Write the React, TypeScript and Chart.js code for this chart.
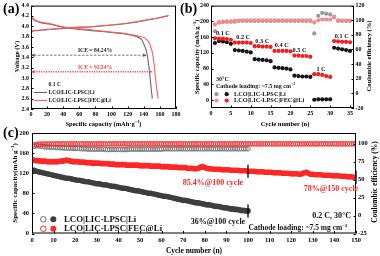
import React, { useEffect, useRef } from 'react';
import { Chart, registerables } from 'chart.js';

Chart.register(...registerables);

const SERIF = "'Liberation Serif', 'Times New Roman', serif";

// ---------------- Panel (a): charge / discharge profiles ----------------
const aXTicks = [0, 20, 40, 60, 80, 100, 120, 140, 160, 180];
const aYTicks = [2.4, 2.6, 2.8, 3.0, 3.2, 3.4, 3.6, 3.8, 4.0, 4.2, 4.4];
const aRedDisX = [0, 5, 12, 24, 40, 61, 80, 100, 117, 133, 141.5, 147.7, 151.8, 154, 156, 158];
const aRedDisY = [4.19, 4.12, 4.08, 4.05, 3.99, 3.95, 3.92, 3.89, 3.86, 3.81, 3.77, 3.65, 3.4, 3.08, 2.8, 2.6];
const aGrayDisX = [0, 5, 12, 24, 40, 61, 80, 100, 117, 133, 137.5, 141, 143.6, 146.5, 148.5, 150.6];
const aGrayDisY = [4.17, 4.11, 4.07, 4.04, 3.98, 3.94, 3.91, 3.88, 3.85, 3.79, 3.74, 3.62, 3.5, 3.2, 2.9, 2.6];
const aRedChgX = [0, 0.8, 5, 20, 44, 80, 119, 146, 160, 171];
const aRedChgY = [3.78, 3.9, 3.92, 3.94, 3.97, 4.0, 4.06, 4.13, 4.17, 4.21];
const aGrayChgX = [0, 0.8, 5, 20, 44, 80, 119, 146, 160, 170];
const aGrayChgY = [3.7, 3.89, 3.915, 3.935, 3.965, 3.995, 4.055, 4.125, 4.165, 4.2];
const aIceVoltage = [3.44, 3.12];
const aIceEnd = [143.5, 151];
const aIceLabels = ['ICE = 84.24%', 'ICE = 93.54%'];
const aSeriesNames = ['LCO|LIC-LPSC|Li', 'LCO|LIC-LPSC|FEC@Li'];

// ---------------- Panel (b): rate performance ----------------
const bXTicks = [0, 5, 10, 15, 20, 25, 30, 35];
const bYTicks = [0, 40, 80, 120, 160, 200, 240];
const bY2Ticks = [-20, 0, 20, 40, 60, 80, 100, 120];
const bCycles = [1, 2, 3, 4, 5, 6, 7, 8, 9, 10, 11, 12, 13, 14, 15, 16, 17, 18, 19, 20, 21, 22, 23, 24, 25, 26, 27, 28, 29, 30, 31, 32, 33, 34, 35];
const bGrayCap = [145, 150, 149, 147, 143, 127, 126, 125, 123, 121, 104, 103, 102, 101, 99, 83, 82, 81, 80, 78, 62, 61, 60, 60, 59, 1, 2, 2, 2, 2, 133, 131, 129, 127, 125];
const bRedCap = [157, 156, 156, 155, 153, 146, 146, 146, 146, 145, 137, 137, 136, 136, 135, 125, 125, 125, 125, 124, 113, 113, 112, 112, 110, 66, 66, 64, 61, 59, 150, 149, 148, 148, 147];
const bGrayCE = [85, 97, 98, 98, 98, 98, 99, 99, 99, 99, 99, 99, 99, 99, 99, 99, 99, 99, 99, 99, 99, 99, 99, 99, 99, 82, 106, 110, 109, 108, 104, 99, 99, 99, 99];
const bRedCE = [94, 97, 97.5, 98, 98, 99.5, 99.5, 100, 100, 100, 100, 100, 100, 100, 100, 100, 100, 100, 100, 100, 100, 100, 100, 100, 100, 97, 100, 101, 101, 101, 105, 100, 99.5, 99.5, 99.5];
const bRateLabels = ['0.1 C', '0.2 C', '0.3 C', '0.4 C', '0.5 C', '1 C', '0.1 C'];
const bRateAnchorX = [3, 8.1, 12.9, 17.8, 22.3, 27.7, 32.9];
const bRateAnchorY = [170, 160, 148, 139, 127, 79, 161];

// ---------------- Panel (c): long cycling ----------------
const cXTicks = [0, 10, 20, 30, 40, 50, 60, 70, 80, 90, 100, 110, 120, 130, 140, 150];
const cYTicks = [0, 40, 80, 120, 160, 200];
const cY2Ticks = [-25, 0, 25, 50, 75, 100];
const cGrayCap = [
  126, 124, 123, 122, 121, 120, 119, 118, 117, 116,
  115, 114, 113, 112, 111, 110, 110, 109, 108, 107,
  106, 106, 105, 104, 103, 103, 102, 101, 100, 99,
  99, 98, 97, 97, 96, 95, 94, 94, 93, 92,
  91, 90, 90, 89, 88, 87, 86, 85, 85, 84,
  83, 82, 81, 80, 80, 79, 78, 77, 76, 75,
  74, 74, 73, 72, 71, 70, 69, 68, 67, 66,
  66, 65, 64, 63, 62, 61, 61, 60, 59, 58,
  57, 57, 56, 55, 54, 54, 53, 52, 51, 51,
  50, 49, 49, 48, 48, 47, 46, 46, 45, 45,
];
const cRedCap = [
  146, 145, 145, 144, 144, 144, 143, 143, 143, 143,
  143, 143, 144, 144, 145, 146, 145, 144, 143, 143,
  143, 142, 142, 142, 141, 141, 141, 140, 140, 140,
  140, 139, 139, 139, 139, 138, 138, 138, 137, 137,
  137, 137, 137, 136, 136, 136, 136, 136, 136, 135,
  135, 135, 135, 135, 134, 134, 134, 134, 134, 133,
  133, 133, 133, 132, 132, 132, 132, 131, 131, 131,
  131, 130, 130, 130, 129, 129, 130, 132, 133, 131,
  130, 129, 129, 128, 128, 128, 128, 127, 127, 127,
  127, 126, 126, 126, 126, 125, 125, 125, 125, 124,
  124, 124, 124, 123, 123, 123, 123, 122, 122, 122,
  122, 121, 121, 121, 121, 120, 120, 120, 120, 119,
  119, 119, 119, 118, 119, 121, 122, 120, 118, 118,
  117, 117, 117, 117, 116, 116, 116, 116, 115, 115,
  115, 115, 114, 114, 114, 113, 113, 113, 112, 112,
];
const cGrayCE = [
  98.5, 97.5, 97, 96.5, 96, 96, 95.5, 95.5, 95, 95,
  95, 94.5, 94.5, 94.5, 94, 94, 94, 94, 93.5, 93.5,
  93.5, 93.5, 93, 93, 93, 92.5, 92.5, 92.5, 92.5, 92.5,
  92.5, 92.5, 92.5, 92, 92, 92, 92, 92, 92, 92,
  92, 92, 92, 92, 92.5, 92.5, 92.5, 92.5, 92.5, 92.5,
  92.5, 92.5, 92.5, 92.5, 92.5, 92.5, 92.5, 92.5, 92.5, 92.5,
  93, 93, 93, 93, 93, 93, 93, 93, 93, 93,
  93, 93, 93, 93, 93, 93, 93, 93, 93, 93,
  93, 93, 93, 93, 93, 93, 93, 93, 93, 93,
  93, 93, 93, 93, 93, 93, 93, 93, 93, 93,
];
const cRedCE = [
  96.5, 99.2, 99.5, 99.6, 99.6, 99.7, 99.7, 99.6, 99.7, 99.8,
  99.7, 99.8, 99.7, 99.8, 99.8, 99.7, 99.8, 99.8, 99.7, 99.8,
  99.8, 99.7, 99.8, 99.8, 99.9, 99.8, 99.8, 99.7, 99.8, 99.8,
  99.8, 99.9, 99.8, 99.8, 99.8, 99.9, 99.8, 99.8, 99.9, 99.8,
  99.8, 99.8, 99.9, 99.8, 99.8, 99.9, 99.8, 99.9, 99.8, 99.8,
  99.9, 99.8, 99.8, 99.9, 99.8, 99.8, 99.8, 99.9, 99.8, 99.8,
  99.8, 99.9, 99.8, 99.8, 99.9, 99.8, 99.8, 99.9, 99.8, 99.8,
  99.8, 99.8, 99.9, 99.8, 99.8, 99.9, 99.8, 99.8, 99.8, 99.9,
  99.8, 99.8, 99.9, 99.8, 99.8, 99.8, 99.9, 99.8, 99.8, 99.9,
  99.8, 99.8, 99.8, 99.9, 99.8, 99.8, 99.9, 99.8, 99.8, 99.8,
  99.9, 99.8, 99.8, 99.9, 99.8, 99.8, 99.8, 99.9, 99.8, 99.8,
  99.8, 99.9, 99.8, 99.8, 99.9, 99.8, 99.8, 99.8, 99.9, 99.8,
  99.8, 99.9, 99.8, 99.8, 99.8, 99.9, 99.8, 99.8, 99.9, 99.8,
  99.8, 99.8, 99.9, 99.8, 99.8, 99.9, 99.8, 99.8, 99.8, 99.9,
  99.8, 99.8, 99.9, 99.8, 99.8, 99.8, 99.9, 99.8, 99.8, 99.8,
];
const cMarkCycles = [100, 150];
const cRetentionLabels = ['85.4%@100 cycle', '78%@150 cycle', '36%@100 cycle'];

// ---------------- helpers ----------------
type Part = { t: string; sup?: boolean };

function rich(
  ctx: CanvasRenderingContext2D,
  parts: Part[],
  x: number,
  y: number,
  size: number,
  color: string,
  align: 'left' | 'center' | 'right' = 'center',
  rot = 0
) {
  ctx.save();
  ctx.translate(x, y);
  if (rot) ctx.rotate(rot);
  ctx.fillStyle = color;
  ctx.textBaseline = 'middle';
  ctx.textAlign = 'left';
  const fontOf = (p: Part) => `bold ${p.sup ? size * 0.65 : size}px ${SERIF}`;
  let total = 0;
  for (const p of parts) {
    ctx.font = fontOf(p);
    total += ctx.measureText(p.t).width;
  }
  let cx = align === 'center' ? -total / 2 : align === 'right' ? -total : 0;
  for (const p of parts) {
    ctx.font = fontOf(p);
    ctx.fillText(p.t, cx, p.sup ? -size * 0.35 : 0);
    cx += ctx.measureText(p.t).width;
  }
  ctx.restore();
}

const pts = (xs: number[], ys: number[]) => xs.map((x, i) => ({ x, y: ys[i] }));

function axis(
  position: string,
  min: number,
  max: number,
  ticks: number[],
  size: number,
  fontSize: number,
  pad: number,
  fmt?: (v: number) => string
) {
  return {
    type: 'linear',
    position,
    min,
    max,
    afterBuildTicks: (s: any) => {
      s.ticks = ticks.map((v) => ({ value: v }));
    },
    afterFit: (s: any) => {
      if (position === 'bottom' || position === 'top') s.height = size;
      else s.width = size;
    },
    grid: { display: false, drawTicks: false },
    border: { display: false },
    title: { display: false },
    ticks: {
      autoSkip: false,
      maxRotation: 0,
      minRotation: 0,
      padding: pad,
      color: '#000',
      font: { family: SERIF, size: fontSize, weight: 'bold' },
      callback: (v: any) => (fmt ? fmt(Number(v)) : String(v)),
    },
  };
}

function frame(chart: any, ids: string[]) {
  const { ctx, chartArea: a } = chart;
  ctx.save();
  ctx.strokeStyle = '#000';
  ctx.lineWidth = 1;
  ctx.strokeRect(a.left + 0.5, a.top + 0.5, a.right - a.left - 1, a.bottom - a.top - 1);
  ctx.beginPath();
  for (const id of ids) {
    const s = chart.scales[id];
    for (const t of s.ticks) {
      const p = Math.round(s.getPixelForValue(t.value)) + 0.5;
      if (s.position === 'bottom') {
        ctx.moveTo(p, a.bottom);
        ctx.lineTo(p, a.bottom - 2.5);
      } else if (s.position === 'left') {
        ctx.moveTo(a.left, p);
        ctx.lineTo(a.left + 2.5, p);
      } else {
        ctx.moveTo(a.right, p);
        ctx.lineTo(a.right - 2.5, p);
      }
    }
  }
  ctx.stroke();
  ctx.restore();
}

function arrowLine(ctx: CanvasRenderingContext2D, x0: number, x1: number, y: number, color: string, dash: number[], width: number) {
  ctx.save();
  ctx.strokeStyle = color;
  ctx.fillStyle = color;
  ctx.lineWidth = width;
  ctx.setLineDash(dash);
  ctx.beginPath();
  ctx.moveTo(x0 + 3, y);
  ctx.lineTo(x1 - 3, y);
  ctx.stroke();
  ctx.setLineDash([]);
  ctx.beginPath();
  ctx.moveTo(x0, y);
  ctx.lineTo(x0 + 3.5, y - 1.8);
  ctx.lineTo(x0 + 3.5, y + 1.8);
  ctx.closePath();
  ctx.fill();
  ctx.beginPath();
  ctx.moveTo(x1, y);
  ctx.lineTo(x1 - 3.5, y - 1.8);
  ctx.lineTo(x1 - 3.5, y + 1.8);
  ctx.closePath();
  ctx.fill();
  ctx.restore();
}

function dot(ctx: CanvasRenderingContext2D, x: number, y: number, r: number, fill: string | null, stroke: string | null) {
  ctx.save();
  ctx.beginPath();
  ctx.arc(x, y, r, 0, Math.PI * 2);
  if (fill) {
    ctx.fillStyle = fill;
    ctx.fill();
  }
  if (stroke) {
    ctx.strokeStyle = stroke;
    ctx.lineWidth = 1;
    ctx.stroke();
  }
  ctx.restore();
}

const A_RED = '#ff5c5c';
const A_GRAY = '#666666';
const B_RED = '#f41c1c';
const B_PINK = '#f58a8a';
const B_GRAY = '#9a9a9a';
const B_BLACK = '#141414';
const C_RED = '#ff2626';
const C_DARK = '#3e3e3e';
const C_GRAYO = '#707070';

const baseOptions = (padding: any) => ({
  animation: false,
  responsive: false,
  devicePixelRatio: 1,
  events: [],
  layout: { padding, autoPadding: false },
  plugins: { legend: { display: false }, tooltip: { enabled: false } },
});

export default function App() {
  const refA = useRef<HTMLCanvasElement>(null);
  const refB = useRef<HTMLCanvasElement>(null);
  const refC = useRef<HTMLCanvasElement>(null);

  useEffect(() => {
    const charts: Chart[] = [];

    // ---------- (a) ----------
    charts.push(
      new Chart(refA.current as HTMLCanvasElement, {
        type: 'line',
        data: {
          datasets: [
            { data: pts(aRedDisX, aRedDisY), borderColor: A_RED },
            { data: pts(aRedChgX, aRedChgY), borderColor: A_RED },
            { data: pts(aGrayDisX, aGrayDisY), borderColor: A_GRAY },
            { data: pts(aGrayChgX, aGrayChgY), borderColor: A_GRAY },
          ].map((d) => ({ ...d, borderWidth: 1.1, pointRadius: 0, fill: false, cubicInterpolationMode: 'monotone' })) as any,
        },
        options: {
          ...baseOptions({ top: 4, right: 14, left: 0, bottom: 0 }),
          scales: {
            x: axis('bottom', 0, 180, aXTicks, 21, 6, 2),
            y: axis('left', 2.4, 4.4, aYTicks, 31, 6, 2, (v) => v.toFixed(1)),
          },
        } as any,
        plugins: [
          {
            id: 'aDeco',
            afterDraw(chart: any) {
              const { ctx, scales } = chart;
              frame(chart, ['x', 'y']);
              const colors = ['#555555', '#ff4a4a'];
              aIceVoltage.forEach((v, i) => {
                const y = scales.y.getPixelForValue(v);
                const x0 = scales.x.getPixelForValue(0);
                const x1 = scales.x.getPixelForValue(aIceEnd[i]);
                arrowLine(ctx, x0, x1, y, colors[i], i === 0 ? [2.5, 1.5] : [1.2, 1.2], i === 0 ? 0.8 : 1.6);
                rich(ctx, [{ t: aIceLabels[i] }], 95, y - 4.6, 5.6, i === 0 ? '#222' : '#ff3c3c');
              });
              rich(ctx, [{ t: '0.1 C' }], 48.5, 85, 5.6, '#111', 'left');
              ctx.save();
              ctx.lineWidth = 1.1;
              ctx.strokeStyle = A_GRAY;
              ctx.beginPath();
              ctx.moveTo(34, 92.5);
              ctx.lineTo(47, 92.5);
              ctx.stroke();
              ctx.strokeStyle = A_RED;
              ctx.beginPath();
              ctx.moveTo(34, 100.5);
              ctx.lineTo(47, 100.5);
              ctx.stroke();
              ctx.restore();
              rich(ctx, [{ t: aSeriesNames[0] }], 48.5, 92.5, 5.6, '#111', 'left');
              rich(ctx, [{ t: aSeriesNames[1] }], 48.5, 100.5, 5.6, '#111', 'left');
              rich(ctx, [{ t: 'Specific capacity (mAh·g' }, { t: '−1', sup: true }, { t: ')' }], 103.5, 124, 6.5, '#000');
              rich(ctx, [{ t: 'Voltage (V)' }], 17.5, 56.5, 6.5, '#000', 'center', -Math.PI / 2);
            },
          },
        ],
      })
    );

    // ---------- (b) ----------
    charts.push(
      new Chart(refB.current as HTMLCanvasElement, {
        type: 'scatter',
        data: {
          datasets: [
            { data: pts(bCycles, bRedCE), backgroundColor: B_PINK, yAxisID: 'y2' },
            { data: pts(bCycles, bGrayCE), backgroundColor: B_GRAY, yAxisID: 'y2' },
            { data: pts(bCycles, bRedCap), backgroundColor: B_RED, yAxisID: 'y' },
            { data: pts(bCycles, bGrayCap), backgroundColor: B_BLACK, yAxisID: 'y' },
          ].map((d) => ({ ...d, pointRadius: 2.1, borderWidth: 0, pointStyle: 'circle' })) as any,
        },
        options: {
          ...baseOptions({ top: 4, right: 0, left: 0, bottom: 0 }),
          scales: {
            x: axis('bottom', 0, 36, bXTicks, 22, 6, 2),
            y: axis('left', -20, 240, bYTicks, 21, 6, 2),
            y2: axis('right', -20, 120, bY2Ticks, 26, 6, 1.5),
          },
        } as any,
        plugins: [
          {
            id: 'bDeco',
            afterDraw(chart: any) {
              const { ctx, scales } = chart;
              frame(chart, ['x', 'y', 'y2']);
              bRateLabels.forEach((t, i) => {
                rich(ctx, [{ t }], scales.x.getPixelForValue(bRateAnchorX[i]), scales.y.getPixelForValue(bRateAnchorY[i]), 6.3, '#111');
              });
              rich(ctx, [{ t: '30°C' }], 26, 79.3, 6, '#111', 'left');
              rich(ctx, [{ t: 'Cathode loading: ~7.5 mg cm' }, { t: '−2', sup: true }], 26, 86.2, 6, '#111', 'left');
              dot(ctx, 26.5, 94.2, 2.1, B_GRAY, null);
              dot(ctx, 36.7, 94.2, 2.1, B_BLACK, null);
              dot(ctx, 26.5, 100.5, 2.1, B_PINK, null);
              dot(ctx, 36.7, 100.5, 2.1, B_RED, null);
              rich(ctx, [{ t: aSeriesNames[0] }], 44, 94.2, 6.3, '#111', 'left');
              rich(ctx, [{ t: aSeriesNames[1] }], 44, 100.5, 6.3, '#111', 'left');
              rich(ctx, [{ t: 'Specific capacity (mAh g' }, { t: '−1', sup: true }, { t: ')' }], 7.5, 57, 6.4, '#000', 'center', -Math.PI / 2);
              rich(ctx, [{ t: 'Coulombic efficiency (%)' }], 179, 56, 6.5, '#000', 'center', -Math.PI / 2);
              rich(ctx, [{ t: 'Cycle number (n)' }], 95, 124, 6.5, '#000');
            },
          },
        ],
      })
    );

    // ---------- (c) ----------
    const cCyclesGray = cGrayCap.map((_, i) => i + 1);
    const cCyclesRed = cRedCap.map((_, i) => i + 1);
    const marks = [
      { x: cMarkCycles[0], y: cGrayCap[cMarkCycles[0] - 1] },
      { x: cMarkCycles[0], y: cRedCap[cMarkCycles[0] - 1] },
      { x: cMarkCycles[1], y: cRedCap[cMarkCycles[1] - 1] },
    ];
    charts.push(
      new Chart(refC.current as HTMLCanvasElement, {
        type: 'scatter',
        data: {
          datasets: [
            { data: marks, pointStyle: 'line', rotation: 90, pointRadius: 6.5, borderColor: '#000', borderWidth: 1.3, yAxisID: 'y', clip: false },
            { data: pts(cCyclesRed, cRedCE), pointRadius: 2.3, borderColor: C_RED, backgroundColor: 'rgba(255,255,255,0)', borderWidth: 0.9, yAxisID: 'y2' },
            { data: pts(cCyclesGray, cGrayCE), pointRadius: 2.3, borderColor: C_GRAYO, backgroundColor: 'rgba(255,255,255,0)', borderWidth: 0.9, yAxisID: 'y2' },
            { data: pts(cCyclesRed, cRedCap), pointRadius: 2.8, borderWidth: 0, backgroundColor: C_RED, yAxisID: 'y' },
            { data: pts(cCyclesGray, cGrayCap), pointRadius: 2.8, borderWidth: 0, backgroundColor: C_DARK, yAxisID: 'y' },
          ] as any,
        },
        options: {
          ...baseOptions({ top: 8, right: 0, left: 0, bottom: 0 }),
          scales: {
            x: axis('bottom', 0, 150, cXTicks, 22.5, 6.5, 2.5),
            y: axis('left', 0, 200, cYTicks, 32, 6.5, 3),
            y2: axis('right', -25, 115, cY2Ticks, 24, 6.5, 2),
          },
        } as any,
        plugins: [
          {
            id: 'cDeco',
            afterDraw(chart: any) {
              const { ctx } = chart;
              frame(chart, ['x', 'y', 'y2']);
              rich(ctx, [{ t: cRetentionLabels[0] }], 213, 58.3, 8, C_RED);
              rich(ctx, [{ t: cRetentionLabels[1] }], 331, 64.3, 8, C_RED);
              rich(ctx, [{ t: cRetentionLabels[2] }], 218, 96.7, 8, '#111');
              rich(ctx, [{ t: '0.2 C, 30°C' }], 351, 90.7, 8, '#111', 'right');
              rich(ctx, [{ t: 'Cathode loading: ~7.5 mg cm' }, { t: '−2', sup: true }], 298, 103.3, 7.5, '#111');
              dot(ctx, 43.3, 94.3, 2.8, null, C_GRAYO);
              dot(ctx, 53.3, 94.3, 3, C_DARK, null);
              dot(ctx, 43.3, 103.7, 2.8, null, C_RED);
              dot(ctx, 53.3, 103.7, 3, C_RED, null);
              rich(ctx, [{ t: aSeriesNames[0] }], 64, 94.3, 8.8, '#111', 'left');
              rich(ctx, [{ t: aSeriesNames[1] }], 64, 103.7, 8.8, '#111', 'left');
              rich(ctx, [{ t: 'Specific capacity(mAh g' }, { t: '−1', sup: true }, { t: ')' }], 15, 58, 7, '#000', 'center', -Math.PI / 2);
              rich(ctx, [{ t: 'Coulombic efficiency (%)' }], 375, 57, 7.5, '#000', 'center', -Math.PI / 2);
              rich(ctx, [{ t: 'Cycle number (n)' }], 194, 126, 7.5, '#000');
            },
          },
        ],
      })
    );

    return () => charts.forEach((c) => c.destroy());
  }, []);

  const label: React.CSSProperties = {
    position: 'absolute',
    font: `bold 14px ${SERIF}`,
    lineHeight: '14px',
    color: '#000',
  };

  return (
    <div style={{ position: 'fixed', left: 0, top: 0, width: 380, height: 256, background: '#fff', overflow: 'hidden' }}>
      <canvas ref={refA} width={190} height={130} style={{ position: 'absolute', left: 0, top: 0, width: 190, height: 130 }} />
      <canvas ref={refB} width={190} height={130} style={{ position: 'absolute', left: 190, top: 0, width: 190, height: 130 }} />
      <canvas ref={refC} width={380} height={131} style={{ position: 'absolute', left: 0, top: 125, width: 380, height: 131 }} />
      <span style={{ ...label, left: 3, top: 2 }}>(a)</span>
      <span style={{ ...label, left: 180, top: 2 }}>(b)</span>
      <span style={{ ...label, left: 3, top: 126 }}>(c)</span>
    </div>
  );
}
